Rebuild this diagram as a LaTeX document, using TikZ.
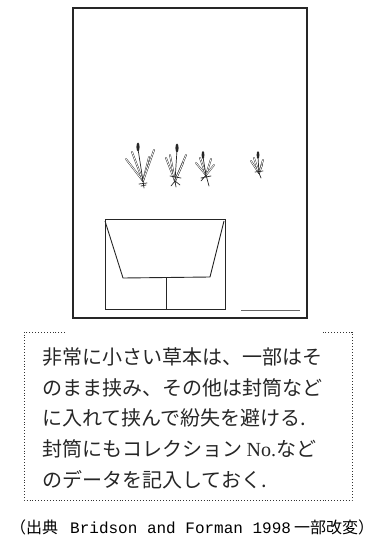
\documentclass[tikz,border=0pt]{standalone}
\usepackage{fontspec}
\setmainfont{Liberation Serif}
\setmonofont{Liberation Mono}
\newfontfamily\jpfont{Noto Sans CJK JP}
\begin{document}
\begin{tikzpicture}[x=1pt,y=-1pt,
  frame/.style={draw=black!85,line width=1.3pt},
  env/.style={draw=black!85,line width=0.9pt},
  leaf/.style={draw=black!85,double=white,double distance=0.8pt,line width=0.45pt,line cap=round},
  stalk/.style={draw=black!85,line width=0.7pt,line cap=round},
  spike/.style={fill=black!85},
  dotbox/.style={draw=black!80,dotted,line width=0.9pt},
  bodytext/.style={inner sep=0pt,anchor=base west,text=black!85,font=\fontsize{20}{24}\selectfont\jpfont},
  captext/.style={inner sep=0pt,anchor=base west,text=black,font=\fontsize{16}{20}\selectfont\jpfont}]
\useasboundingbox (0,0) rectangle (376,540);

% herbarium sheet
\draw[frame] (73,8) rectangle (307,318);

% envelope with open flap
\coordinate (e1) at (105,219);
\coordinate (e2) at (225,309);
\draw[env] (e1) rectangle (e2);
\draw[env] (105,221) -- (123,278) coordinate (f1) -- (210,277) coordinate (f2) -- (224,221);
\coordinate (fm) at (166,278);
\coordinate (fb) at (166,309);
\draw[env] (fm) -- (fb);

% label line
\coordinate (lb1) at (241,310);
\coordinate (lb2) at (300,310);
\draw[draw=black!60,line width=0.6pt] (lb1) -- (lb2);

% plant 1
\coordinate (p1) at (143,181);
\foreach \t in {(126,159),(132,152),(149,157),(154,150)} \draw[leaf] (p1) -- \t;
\draw[stalk] (p1) -- (138,149);
\fill[spike] (138,147) ellipse (1.6 and 4.5);
\draw[stalk] (p1) -- (144,188) (139,184) -- (147,183) (141,186) -- (146,185);

% plant 2
\coordinate (p2) at (175,181);
\foreach \t in {(166,158),(170,155),(186,155),(183,163)} \draw[leaf] (p2) -- \t;
\draw[stalk] (p2) -- (177,150);
\fill[spike] (177,148) ellipse (1.6 and 4.5);
\draw[stalk] (p2) -- (171,186) (p2) -- (176,187) (p2) -- (180,185) (170,176) -- (181,178);

% plant 3
\coordinate (p3) at (206,175);
\foreach \t in {(196,163),(200,158),(211,159),(214,165)} \draw[leaf] (p3) -- \t;
\draw[stalk] (p3) -- (203,157);
\fill[spike] (203,155) ellipse (1.4 and 4);
\draw[stalk] (p3) -- (209,186) (201,178) -- (211,176) (p3) -- (201,181);

% plant 4
\coordinate (p4) at (259,173);
\foreach \t in {(251,161),(254,158),(263,160),(262,165)} \draw[leaf] (p4) -- \t;
\draw[stalk] (p4) -- (258,157);
\fill[spike] (258,155) ellipse (1.4 and 3.8);
\draw[stalk] (p4) -- (261,178) (255,172) -- (263,171);

% dotted text frame
\draw[dotbox] (65,332) -- (24,332) -- (24,500) -- (352,500) -- (352,332) -- (323,332);

% explanatory text
\node[bodytext] (l1) at (42,364) {非常に小さい草本は、一部はそ};
\node[bodytext] (l2) at (42,395) {のまま挟み、その他は封筒など};
\node[bodytext] (l3) at (42,425) {に入れて挟んで紛失を避ける.};
\node[bodytext] (l4) at (42,456) {封筒にもコレクション {\rmfamily No.}など};
\node[bodytext] (l5) at (42,487) {のデータを記入しておく.};

% source
\node[captext] (cap) at (10,533) {（出典\hspace{12pt}{\ttfamily Bridson and Forman 1998}\hspace{3pt}一部改変）};
\end{tikzpicture}
\end{document}
